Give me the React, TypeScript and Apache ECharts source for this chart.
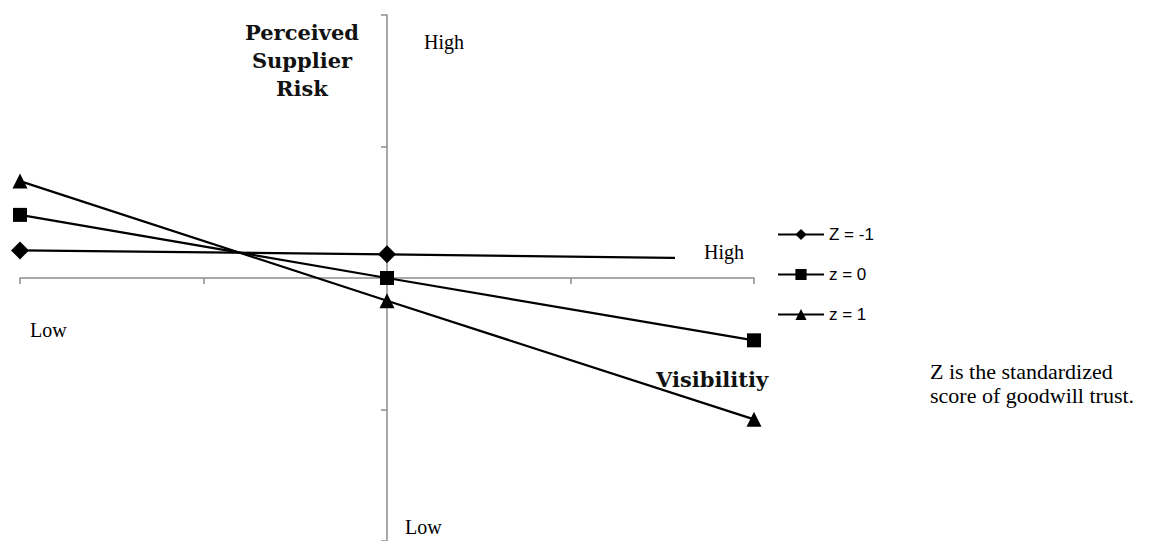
import React, { useEffect, useRef } from "react";
import * as echarts from "echarts";

const xValues = [-2, 0, 2];
const seriesNames = ["Z = -1", "z = 0", "z = 1"];
const zMinus1 = [0.21, 0.18, 0.145];
const zZero = [0.48, 0.0, -0.474];
const zOne = [0.737, -0.173, -1.075];
const symbols = ["diamond", "rect", "triangle"];
const symbolSizes = [18, 14, 15];

const SERIF = "'Liberation Serif', 'Times New Roman', serif";
const BOLD_SERIF = "'DejaVu Serif', 'Liberation Serif', serif";

export default function App() {
  const ref = useRef<HTMLDivElement>(null);
  useEffect(() => {
    if (!ref.current) return;
    const chart = echarts.init(ref.current, null, { renderer: "svg" });
    const values = [zMinus1, zZero, zOne];
    const axisStyle = { lineStyle: { color: "#8c8c8c", width: 1.5 } };
    const textEl = (text: string, x: number, y: number, font: string, extra: any = {}) => ({
      type: "text",
      x,
      y,
      z: 100,
      style: {
        text,
        font,
        fill: "#000",
        align: "left",
        verticalAlign: "middle",
        textAlign: "left",
        textVerticalAlign: "middle",
        ...extra,
      },
    });
    chart.setOption({
      animation: false,
      backgroundColor: "#ffffff",
      grid: { left: 20, right: 410, top: 15, height: 532 },
      xAxis: {
        type: "value",
        min: -2,
        max: 2,
        interval: 1,
        axisLine: { show: true, onZero: true, ...axisStyle },
        axisTick: { show: true, length: 6, ...axisStyle },
        axisLabel: { show: false },
        splitLine: { show: false },
      },
      yAxis: {
        type: "value",
        min: -2,
        max: 2,
        interval: 1,
        axisLine: { show: true, onZero: true, ...axisStyle },
        axisTick: { show: true, length: 6, ...axisStyle },
        axisLabel: { show: false },
        splitLine: { show: false },
      },
      legend: {
        orient: "vertical",
        left: 772,
        top: 221,
        padding: 5,
        itemWidth: 46,
        itemHeight: 14,
        itemGap: 23,
        textStyle: { fontFamily: "'Liberation Sans', Arial, sans-serif", fontSize: 17, color: "#000" },
        data: seriesNames,
      },
      series: seriesNames.map((name, i) => ({
        name,
        type: "line",
        data: xValues.map((x, j) => [x, values[i][j]]),
        symbol: symbols[i],
        symbolSize: symbolSizes[i],
        showSymbol: true,
        lineStyle: { color: "#000", width: 2.2 },
        itemStyle: { color: "#000" },
        z: 3,
      })),
      graphic: [
        textEl("Perceived\nSupplier\nRisk", 302, 60, `bold 21px ${BOLD_SERIF}`, {
          align: "center",
          textAlign: "center",
          lineHeight: 28,
          fill: "#111",
        }),
        textEl("High", 424, 42, `20px ${SERIF}`),
        textEl("Low", 405, 527, `20px ${SERIF}`),
        textEl("Low", 30, 330, `20px ${SERIF}`),
        textEl("High", 675, 252, `20px ${SERIF}`, {
          backgroundColor: "#ffffff",
          padding: [6, 22, 6, 29],
        }),
        textEl("Visibilitiy", 656, 379, `bold 21px ${BOLD_SERIF}`, { fill: "#111" }),
        textEl("Z is the standardized", 930, 371, `22px ${SERIF}`),
        textEl("score of goodwill trust.", 930, 395, `22px ${SERIF}`),
      ],
    });
    return () => chart.dispose();
  }, []);
  return (
    <div
      ref={ref}
      style={{ position: "absolute", left: 0, top: 0, width: 1164, height: 541, background: "#fff" }}
    />
  );
}
